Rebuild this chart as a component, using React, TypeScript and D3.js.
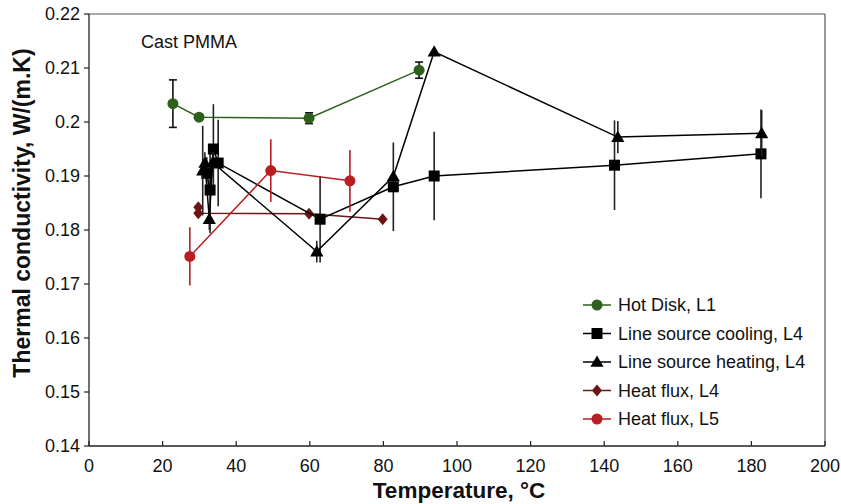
import React from "react";
import * as d3 from "d3";

const xTicks = [0, 20, 40, 60, 80, 100, 120, 140, 160, 180, 200];
const yTicks = [0.14, 0.15, 0.16, 0.17, 0.18, 0.19, 0.2, 0.21, 0.22];
const yTickLabels = ["0.14", "0.15", "0.16", "0.17", "0.18", "0.19", "0.2", "0.21", "0.22"];

const hotDiskX = [22.8, 29.9, 59.8, 89.7];
const hotDiskY = [0.2034, 0.2009, 0.2007, 0.2096];
const hotDiskErr = [0.0044, 0.0005, 0.001, 0.0015];

const coolingX = [32, 32.9, 33.8, 35.1, 62.8, 82.7, 93.8, 142.8, 182.6];
const coolingY = [0.1905, 0.1874, 0.195, 0.1924, 0.182, 0.188, 0.19, 0.192, 0.1941];
const coolingErr = [0.003, 0.008, 0.0083, 0.008, 0.008, 0.0082, 0.0082, 0.0083, 0.0082];

const heatingX = [30.9, 31.5, 32.7, 33.6, 61.9, 82.7, 93.8, 143.7, 182.8];
const heatingY = [0.191, 0.1924, 0.182, 0.1925, 0.176, 0.1899, 0.213, 0.1972, 0.1979];
const heatingErr = [0.0083, 0.002, 0.002, 0.002, 0.002, 0, 0, 0.003, 0.0043];

const flux4X = [29.7, 29.7, 59.8, 79.8];
const flux4Y = [0.1842, 0.1831, 0.183, 0.182];

const flux5X = [27.4, 49.4, 70.9];
const flux5Y = [0.1751, 0.191, 0.1891];
const flux5Err = [0.0054, 0.0058, 0.0057];

const legendLabels = ["Hot Disk, L1", "Line source cooling, L4", "Line source heating, L4", "Heat flux, L4", "Heat flux, L5"];

const GREEN = "#2e5f1c";
const MAROON = "#6e1414";
const RED = "#b81e22";
const FONT = "'Liberation Sans', Arial, sans-serif";

const x = d3.scaleLinear().domain([0, 200]).range([89, 825]);
const y = d3.scaleLinear().domain([0.14, 0.22]).range([446, 14]);

type Pt = [number, number];
const zip = (xs: number[], ys: number[]): Pt[] => xs.map((v, i) => [v, ys[i]]);
const line = d3.line<Pt>().x((d) => x(d[0])).y((d) => y(d[1]));

function Marker({ kind, cx, cy, color }: { kind: string; cx: number; cy: number; color: string }) {
  if (kind === "circle") return <circle cx={cx} cy={cy} r={5.5} fill={color} />;
  if (kind === "square") return <rect x={cx - 5.5} y={cy - 5.5} width={11} height={11} fill={color} />;
  if (kind === "triangle")
    return <path d={d3.symbol(d3.symbolTriangle, 75)() || ""} transform={`translate(${cx},${cy + 1})`} fill={color} />;
  return <path d={`M${cx},${cy - 6}L${cx + 5},${cy}L${cx},${cy + 6}L${cx - 5},${cy}Z`} fill={color} />;
}

function Series({ xs, ys, err, color, errColor, kind, caps }: any) {
  const pts = zip(xs, ys);
  return (
    <g>
      {err &&
        pts.map((p, i) =>
          err[i] > 0 ? (
            <g key={"e" + i} stroke={errColor} strokeWidth={1.6}>
              <line x1={x(p[0])} x2={x(p[0])} y1={y(p[1] - err[i])} y2={y(p[1] + err[i])} />
              {caps && (
                <>
                  <line x1={x(p[0]) - 4} x2={x(p[0]) + 4} y1={y(p[1] - err[i])} y2={y(p[1] - err[i])} />
                  <line x1={x(p[0]) - 4} x2={x(p[0]) + 4} y1={y(p[1] + err[i])} y2={y(p[1] + err[i])} />
                </>
              )}
            </g>
          ) : null
        )}
      <path d={line(pts) || ""} fill="none" stroke={color} strokeWidth={1.5} />
      {pts.map((p, i) => (
        <Marker key={i} kind={kind} cx={x(p[0])} cy={y(p[1])} color={color} />
      ))}
    </g>
  );
}

export default function App() {
  const legend = [
    { color: GREEN, kind: "circle" },
    { color: "#000", kind: "square" },
    { color: "#000", kind: "triangle" },
    { color: MAROON, kind: "diamond" },
    { color: RED, kind: "circle" },
  ];
  return (
    <svg width={841} height={504} style={{ position: "absolute", left: 0, top: 0, background: "#fff" }} fontFamily={FONT}>
      <rect x={0} y={0} width={841} height={504} fill="#fff" />
      <line x1={x(200)} x2={x(200)} y1={y(0.22)} y2={y(0.14)} stroke="#555" strokeWidth={1.2} />
      <line x1={x(0)} x2={x(200)} y1={y(0.22)} y2={y(0.22)} stroke="#555" strokeWidth={1.2} />
      <line x1={x(0)} x2={x(0)} y1={y(0.22)} y2={y(0.14)} stroke="#222" strokeWidth={1.3} />
      <line x1={x(0)} x2={x(200)} y1={y(0.14)} y2={y(0.14)} stroke="#222" strokeWidth={1.3} />
      {yTicks.map((t, i) => (
        <g key={t}>
          <line x1={x(0) - 5} x2={x(0)} y1={y(t)} y2={y(t)} stroke="#222" strokeWidth={1.2} />
          <text x={x(0) - 9} y={y(t)} dy="0.35em" textAnchor="end" fontSize={18} fill="#111">
            {yTickLabels[i]}
          </text>
        </g>
      ))}
      {xTicks.map((t) => (
        <g key={t}>
          <line x1={x(t)} x2={x(t)} y1={y(0.14)} y2={y(0.14) - 5} stroke="#222" strokeWidth={1.2} />
          <text x={x(t)} y={y(0.14) + 20} dy="0.35em" textAnchor="middle" fontSize={18} fill="#111">
            {t}
          </text>
        </g>
      ))}
      <text x={459} y={490} dy="0.35em" textAnchor="middle" fontSize={22.5} fontWeight="bold" fill="#111">
        Temperature, °C
      </text>
      <text transform="translate(22,213) rotate(-90)" dy="0.35em" textAnchor="middle" fontSize={23} fontWeight="bold" fill="#111">
        Thermal conductivity, W/(m.K)
      </text>
      <text x={141} y={42} dy="0.35em" fontSize={18} fill="#111">
        Cast PMMA
      </text>

      <Series xs={flux4X} ys={flux4Y} color={MAROON} kind="diamond" />
      <Series xs={coolingX} ys={coolingY} err={coolingErr} color="#000" errColor="#222" kind="square" />
      <Series xs={heatingX} ys={heatingY} err={heatingErr} color="#000" errColor="#222" kind="triangle" />
      <Series xs={flux5X} ys={flux5Y} err={flux5Err} color={RED} errColor={RED} kind="circle" />
      <Series xs={hotDiskX} ys={hotDiskY} err={hotDiskErr} color={GREEN} errColor="#111" kind="circle" caps />

      {legendLabels.map((lab, i) => {
        const ly = 305 + i * 28.5;
        return (
          <g key={lab}>
            <line x1={583} x2={611} y1={ly} y2={ly} stroke={legend[i].color} strokeWidth={1.5} />
            <Marker kind={legend[i].kind} cx={597} cy={ly} color={legend[i].color} />
            <text x={618} y={ly} dy="0.35em" fontSize={18} fill="#111">
              {lab}
            </text>
          </g>
        );
      })}
    </svg>
  );
}
